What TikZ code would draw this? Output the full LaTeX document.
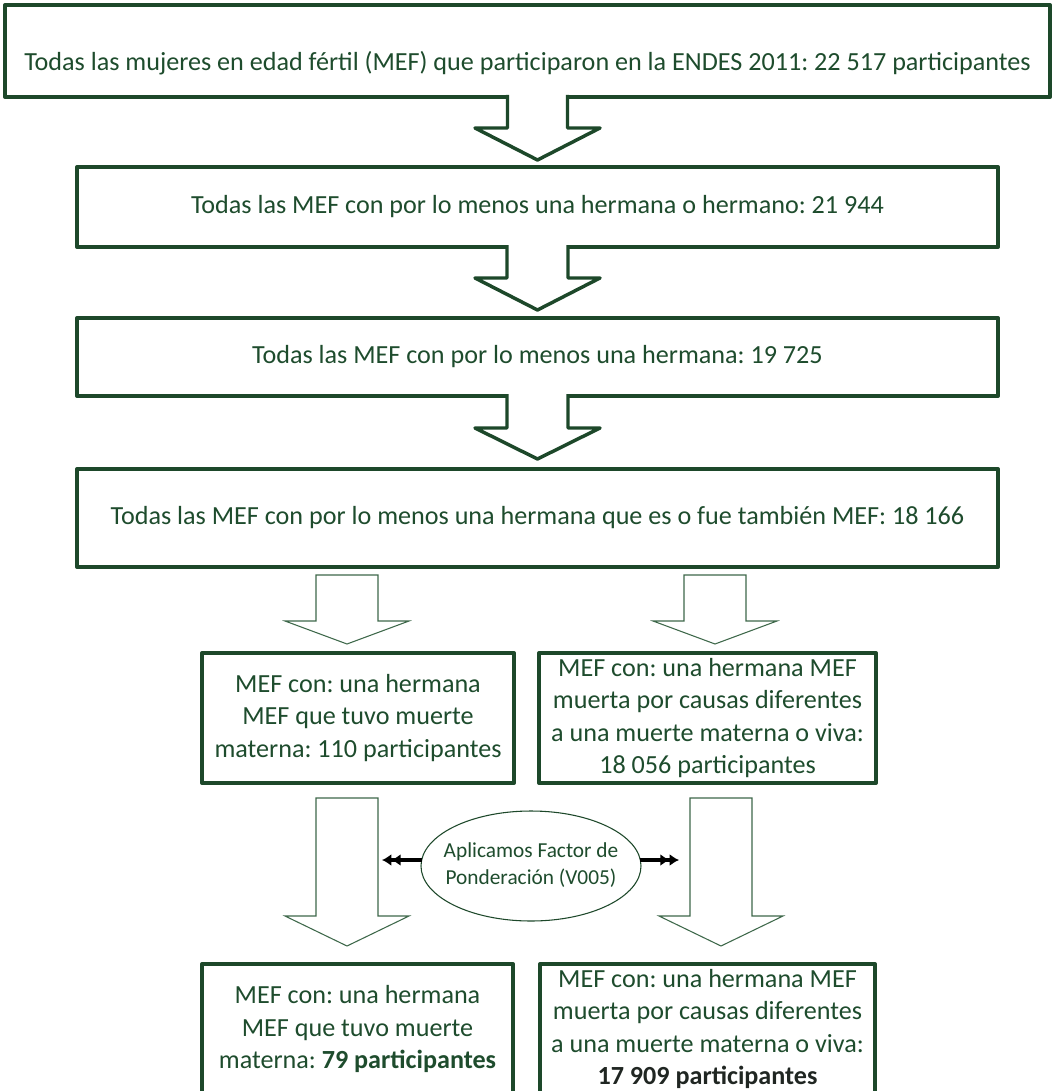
\documentclass[tikz,border=0pt]{standalone}
\usepackage{fontspec}
\setmainfont{Carlito}
\frenchspacing
\usetikzlibrary{calc,shapes.geometric,arrows.meta}
\definecolor{bdr}{RGB}{29,72,42}
\definecolor{txt}{RGB}{30,76,45}
\definecolor{thinc}{RGB}{62,104,74}
\definecolor{darktxt}{RGB}{32,38,34}
% #1 top point, #2 tip point, #3 shaft half width, #4 head half width, #5 head height
\newcommand\thickblockarrow[5]{%
  \fill[white] ($(#2 |- #1)+(-#3,-3)$) -- ($(#2)+(-#3,-#5)$) -- ($(#2)+(-#4,-#5)$) -- (#2) -- ($(#2)+(#4,-#5)$) -- ($(#2)+(#3,-#5)$) -- ($(#2 |- #1)+(#3,-3)$) -- cycle;
  \draw[thickarr] ($(#2 |- #1)+(-#3,-2)$) -- ($(#2)+(-#3,-#5)$) -- ($(#2)+(-#4,-#5)$) -- (#2) -- ($(#2)+(#4,-#5)$) -- ($(#2)+(#3,-#5)$) -- ($(#2 |- #1)+(#3,-2)$);}
\newcommand\thinblockarrow[5]{%
  \draw[thinarr] ($(#2 |- #1)+(-#3,0)$) -- ($(#2)+(-#3,-#5)$) -- ($(#2)+(-#4,-#5)$) -- (#2) -- ($(#2)+(#4,-#5)$) -- ($(#2)+(#3,-#5)$) -- ($(#2 |- #1)+(#3,0)$) -- cycle;}
\begin{document}
\begin{tikzpicture}[x=0.75pt,y=-0.75pt,
  box/.style={draw=bdr, line width=3pt, line join=round, rectangle, inner sep=0pt, outer sep=0pt,
    align=center, text=txt, font=\fontsize{19.6}{24.4}\selectfont},
  thickarr/.style={draw=bdr, line width=2.6pt, line join=round},
  thinarr/.style={draw=thinc, line width=0.8pt, fill=white, line join=miter},
  dbl/.style={draw=black, line width=2.4pt, -{Latex[length=7pt,width=9pt]Latex[length=7pt,width=9pt]}},
  ell/.style={ellipse, draw=bdr, line width=0.8pt, inner sep=0pt, outer sep=0pt, text=txt,
    font=\fontsize{16}{20.25}\selectfont}]
\useasboundingbox (0,0) rectangle (1054,1091);
\clip (0,0) rectangle (1054,1091);
\fill[white] (0,0) rectangle (1054,1091);

% main boxes
\node[box, minimum width={1045*0.75pt}, minimum height={92*0.75pt}, text height=34pt, text depth=4pt] (b1) at (527.5,51)
  {Todas las mujeres en edad fértil (MEF) que participaron en la ENDES 2011: 22 517 participantes};
\node[box, minimum width={921*0.75pt}, minimum height={80*0.75pt}] (b2) at (537.5,207)
  {Todas las MEF con por lo menos una hermana o hermano: 21 944};
\node[box, minimum width={921*0.75pt}, minimum height={78*0.75pt}] (b3) at (537.5,357)
  {Todas las MEF con por lo menos una hermana: 19 725};
\node[box, minimum width={921*0.75pt}, minimum height={98*0.75pt}] (b4) at (537.5,518)
  {Todas las MEF con por lo menos una hermana que es o fue también MEF: 18 166};

% middle boxes
\node[box, minimum width={312*0.75pt}, minimum height={130*0.75pt}] (m1) at (358,718)
  {MEF con: una hermana\\MEF que tuvo muerte\\materna: 110 participantes};
\node[box, minimum width={337*0.75pt}, minimum height={130*0.75pt}] (m2) at (707.5,718)
  {MEF con: una hermana MEF\\muerta por causas diferentes\\a una muerte materna o viva:\\18 056 participantes};

% bottom boxes
\node[box, minimum width={311*0.75pt}, minimum height={130*0.75pt}] (f1) at (357.5,1029)
  {MEF con: una hermana\\MEF que tuvo muerte\\materna: \textbf{79 participantes}};
\node[box, minimum width={335*0.75pt}, minimum height={130*0.75pt}] (f2) at (707.5,1029)
  {MEF con: una hermana MEF\\muerta por causas diferentes\\a una muerte materna o viva:\\\textbf{\color{darktxt}17 909 participantes}};

% ellipse
\node[ell, minimum width={220*0.75pt}, minimum height={110*0.75pt}] (e) at (531,866)
  {\makebox[0pt][c]{\begin{tabular}{@{}c@{}}Aplicamos Factor de\\Ponderación (V005)\end{tabular}}};

% thick block arrows
\coordinate (tip1) at ($(b2.north)+(0,-7)$);
\coordinate (tip2) at ($(b3.north)+(0,-8)$);
\coordinate (tip3) at ($(b4.north)+(0,-10)$);
\thickblockarrow{b1.south}{tip1}{30}{62.5}{32}
\thickblockarrow{b2.south}{tip2}{30.5}{62.5}{32}
\thickblockarrow{b3.south}{tip3}{30.5}{62.5}{31}

% thin block arrows
\coordinate (top4) at ($(b4.south)+(0,8)$);
\coordinate (tipL1) at ($(m1.north)+(-11,-9)$);
\coordinate (tipR1) at ($(m2.north)+(7.5,-9)$);
\thinblockarrow{top4}{tipL1}{31}{62}{23}
\thinblockarrow{top4}{tipR1}{31}{62}{23}
\coordinate (top5) at ($(m1.south)+(0,15)$);
\coordinate (tipL2) at ($(f1.north)+(-10.5,-18)$);
\coordinate (tipR2) at ($(f2.north)+(13.5,-18)$);
\thinblockarrow{top5}{tipL2}{31}{62}{30}
\thinblockarrow{top5}{tipR2}{31}{62}{30}

% double arrows from ellipse
\coordinate (dl) at (382,860);
\coordinate (dr) at (679,860);
\draw[dbl] ($(e.west)+(1,-6)$) -- (dl);
\draw[dbl] ($(e.east)+(-1,-6)$) -- (dr);
\end{tikzpicture}
\end{document}
